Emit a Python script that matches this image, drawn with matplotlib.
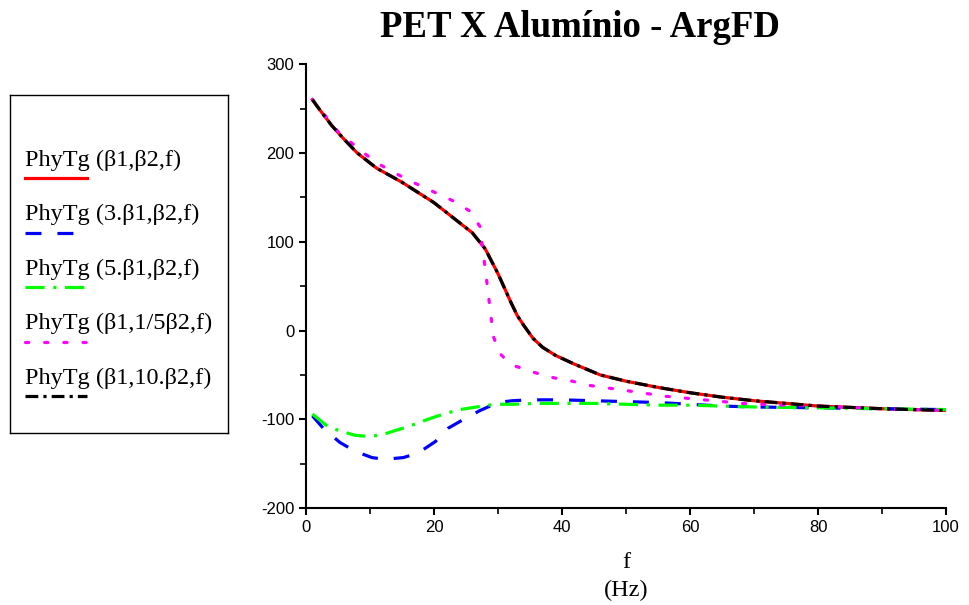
import matplotlib
matplotlib.use("Agg")
import matplotlib.pyplot as plt

plt.rcParams["axes.unicode_minus"] = False

# data (f in Hz, phase in degrees)
f_main = [1, 2, 4, 6, 8, 11, 15, 20, 23, 26, 28, 29, 30, 31, 32, 33, 34, 35.5, 37, 39, 42,
          46, 50, 55, 60, 65, 70, 80, 90, 100]
phy_b1_b2 = [260, 250, 231, 215, 200, 183, 167, 144, 127, 110, 92, 78, 64, 48, 32, 17, 6,
             -9, -19, -28, -38, -50, -57, -64, -70, -75, -79, -85, -88, -90]
phy_b1_10b2 = [260, 250, 231, 215, 200, 183, 167, 144, 127, 110, 92, 78, 64, 48, 32, 17, 6,
               -9, -19, -28, -38, -50, -57, -64, -70, -75, -79, -85, -88, -90]

f_mag = [1, 3, 5, 8, 11, 14, 17, 20, 23, 25.5, 27.2, 27.5, 27.8, 28.1, 28.4, 28.7, 29,
         29.3, 30.2, 31.5, 32.7, 35.6, 38.6, 41.6, 44.5, 47.5, 50.5, 53.3, 56.2, 59.2,
         62.2, 65.2, 68, 71, 75, 80, 90, 100]
phy_b1_b2_5 = [260, 242, 224, 206, 189, 177, 166, 156, 146, 135, 117, 97, 81, 64, 46, 28,
               10, -7, -25, -35, -40, -47, -53, -57, -62, -65, -68, -71, -74, -76, -78,
               -80, -82, -83, -84, -85, -88, -90]

f_blue = [1, 2.7, 5.3, 7.7, 10.3, 12.3, 15.2, 17.5, 20.2, 22.2, 25.1, 27.2, 30, 32.2, 35,
          40, 45, 50, 55, 60, 65, 70, 80, 90, 100]
phy_3b1 = [-96, -110, -126, -136, -143, -145, -143, -138, -125, -110, -98, -90, -81, -79,
           -78, -78, -79, -80, -81, -83, -85, -86, -87, -88, -89]

f_green = [1, 3.4, 5.3, 7.7, 9.5, 11.6, 14.2, 16, 19.8, 22, 24, 26.7, 28.3, 30, 32.4, 36,
           40, 45, 50, 55, 60, 70, 80, 90, 100]
phy_5b1 = [-94, -108, -113, -118, -119, -118, -112, -108, -98, -93, -89, -86, -84, -83, -83,
           -82, -82, -82, -83, -84, -84, -86, -87, -88, -89]

labels = ["PhyTg (\u03b21,\u03b22,f)", "PhyTg (3.\u03b21,\u03b22,f)",
          "PhyTg (5.\u03b21,\u03b22,f)", "PhyTg (\u03b21,1/5\u03b22,f)",
          "PhyTg (\u03b21,10.\u03b22,f)"]

serif = "Liberation Serif"
sans = "Liberation Sans"

styles = [
    dict(color="#ff0000", ls="-", lw=2.3),
    dict(color="#0000ff", ls=(0, (5, 5)), lw=2.3),
    dict(color="#00ff00", ls=(0, (6, 2.7, 1, 2.7)), lw=2.3),
    dict(color="#ff00ff", ls=(0, (1, 5)), lw=2.3, dash_capstyle="round"),
    dict(color="#000000", ls=(0, (4, 1.6, 1, 1.6)), lw=2.3),
]

fig = plt.figure(figsize=(9.69, 6.05), dpi=100)
ax = fig.add_axes([0.3158, 0.160, 0.6605, 0.734])

series = [(f_main, phy_b1_b2), (f_blue, phy_3b1), (f_green, phy_5b1),
          (f_mag, phy_b1_b2_5), (f_main, phy_b1_10b2)]
for (x, y), st in zip(series, styles):
    ax.plot(x, y, **st)

ax.set_xlim(0, 100)
ax.set_ylim(-200, 300)
ax.set_xticks(range(0, 101, 20))
ax.set_xticks(range(10, 100, 20), minor=True)
ax.set_yticks(range(-200, 301, 100))
ax.set_yticks(range(-150, 300, 100), minor=True)
for s in ["top", "right"]:
    ax.spines[s].set_visible(False)
for s in ["left", "bottom"]:
    ax.spines[s].set_linewidth(1.5)
ax.tick_params(which="major", direction="out", length=5, width=1.5, labelsize=12)
ax.tick_params(which="minor", direction="out", length=4, width=1.2)
for lab in ax.get_xticklabels() + ax.get_yticklabels():
    lab.set_fontfamily(sans)

ax.set_xlabel("f\n(Hz)", fontfamily=serif, fontsize=17.5, linespacing=1.45, labelpad=12)

fig.text(0.599, 0.955, "PET X Alum\u00ednio - ArgFD", fontfamily=serif,
         fontweight="bold", fontsize=26.5, ha="center", va="center")

# legend box
lax = fig.add_axes([0.0103, 0.284, 0.225, 0.559])
lax.set_xlim(0, 218)
lax.set_ylim(338, 0)
lax.set_xticks([])
lax.set_yticks([])
for s in lax.spines.values():
    s.set_linewidth(1.0)
for i, (lab, st) in enumerate(zip(labels, styles)):
    ty = 65 + i * 54.5
    lax.text(15, ty, lab, fontfamily=serif, fontsize=17.5, va="center", ha="left")
    lax.plot([15, 77], [ty + 18, ty + 18], **st)

fig.savefig("out.png", dpi=100)
